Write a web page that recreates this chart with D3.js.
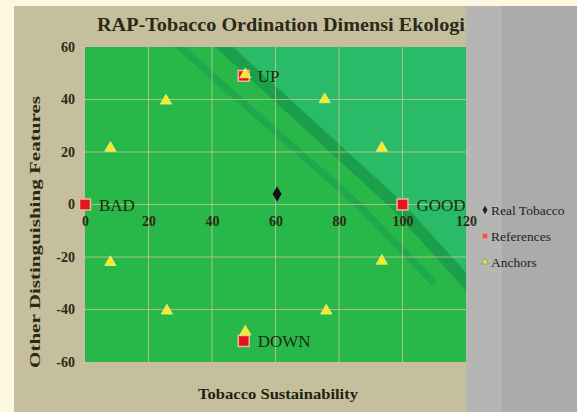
<!DOCTYPE html>
<html>
<head>
<meta charset="utf-8">
<script src="https://cdn.jsdelivr.net/npm/d3@7"></script>
<style>
  body { margin: 0; background: #fbf7e0; }
  svg { display: block; }
  text { font-family: "Liberation Serif", "DejaVu Serif", serif; }
</style>
</head>
<body>
<div id="chart"></div>
<script>
// Data
const xTicks = [0, 20, 40, 60, 80, 100, 120];
const yTicks = [-60, -40, -20, 0, 20, 40, 60];

const realTobacco = [[60.5, 4]];
const references = [[0, 0, "BAD"], [100, 0, "GOOD"], [50, 49, "UP"], [50, -52, "DOWN"]];
const anchors = [
    [8, 21.5], [25.5, 39.5], [75.5, 40], [93.5, 21.5],
    [8, -22], [25.8, -40.5], [76, -40.5], [93.5, -21.5],
    [50.5, 49.5], [50.5, -48.5]
];
const legendItems = ["Real Tobacco", "References", "Anchors"];

const WIDTH = 577, HEIGHT = 412;
const PLOT = { left: 85, right: 466, top: 47, bottom: 362 };

const svg = d3.select("#chart").append("svg")
    .attr("width", WIDTH)
    .attr("height", HEIGHT);

// chart area background
svg.append("rect").attr("x", 14).attr("y", 6).attr("width", WIDTH - 14).attr("height", HEIGHT - 6)
    .attr("fill", "#c6bf9d");
svg.append("rect").attr("x", 466).attr("y", 6).attr("width", 36).attr("height", HEIGHT - 6)
    .attr("fill", "#b5b5b3");
svg.append("rect").attr("x", 502).attr("y", 6).attr("width", WIDTH - 502).attr("height", HEIGHT - 6)
    .attr("fill", "#ababab");

const x = d3.scaleLinear().domain([0, 120]).range([PLOT.left, PLOT.right]);
const y = d3.scaleLinear().domain([-60, 60]).range([PLOT.bottom, PLOT.top]);

// plot area
svg.append("rect")
    .attr("x", PLOT.left).attr("y", PLOT.top)
    .attr("width", PLOT.right - PLOT.left).attr("height", PLOT.bottom - PLOT.top)
    .attr("fill", "#28b84a");

// faint watermark bands over the plot
svg.append("clipPath").attr("id", "plotclip").append("rect")
    .attr("x", PLOT.left).attr("y", PLOT.top)
    .attr("width", PLOT.right - PLOT.left).attr("height", PLOT.bottom - PLOT.top);
const wm = svg.append("g").attr("clip-path", "url(#plotclip)");
const band = d3.line().x(d => x(d[0])).y(d => y(d[1]));
wm.append("path")
    .attr("d", band([[46, 60], [100, 0], [120, -28], [120, 60]]) + "Z")
    .attr("fill", "#2abb68");
wm.append("path")
    .attr("d", band([[42, 62], [98, 0], [122, -32]]))
    .attr("fill", "none").attr("stroke", "#1c9f4a").attr("stroke-width", 12);
wm.append("path")
    .attr("d", band([[28, 62], [86, 0], [110, -30]]))
    .attr("fill", "none").attr("stroke", "#20a84c").attr("stroke-width", 7);

// gridlines
const gridColor = "#d2c98e";
svg.append("g").selectAll("line").data(xTicks.slice(1, -1)).join("line")
    .attr("x1", d => x(d)).attr("x2", d => x(d))
    .attr("y1", PLOT.top).attr("y2", PLOT.bottom)
    .attr("stroke", gridColor).attr("stroke-width", 1).attr("opacity", 0.75);
svg.append("g").selectAll("line").data(yTicks.slice(1, -1)).join("line")
    .attr("x1", PLOT.left).attr("x2", PLOT.right)
    .attr("y1", d => y(d)).attr("y2", d => y(d))
    .attr("stroke", gridColor).attr("stroke-width", 1).attr("opacity", 0.75);

// axes (plain hyphen minus, like the original)
const fmt = d => String(d);
const yAxis = d3.axisLeft(y).tickValues(yTicks).tickFormat(fmt).tickSize(4).tickPadding(6);
const yG = svg.append("g").attr("transform", `translate(${PLOT.left},0)`).call(yAxis);
yG.select(".domain").remove();
yG.selectAll("line").attr("stroke", gridColor);
yG.selectAll("text")
    .attr("font-family", "Liberation Serif, serif")
    .attr("font-size", 14).attr("font-weight", "bold").attr("fill", "#2b2b14");

const xAxis = d3.axisBottom(x).tickValues(xTicks).tickFormat(fmt).tickSize(0).tickPadding(12);
const xG = svg.append("g").attr("transform", `translate(0,${y(0)})`).call(xAxis);
xG.select(".domain").remove();
xG.selectAll("text")
    .attr("font-family", "Liberation Serif, serif")
    .attr("font-size", 14).attr("font-weight", "bold").attr("fill", "#2b2b14");

const tri = d3.symbol().type(d3.symbolTriangle).size(55);
const sq = d3.symbol().type(d3.symbolSquare).size(120);
const dia = d3.symbol().type(d3.symbolDiamond).size(70);

// references (red squares)
svg.append("g").selectAll("path").data(references).join("path")
    .attr("d", sq)
    .attr("transform", d => `translate(${x(d[0])},${y(d[1])})`)
    .attr("fill", "#e3141e").attr("stroke", "#f0b49a").attr("stroke-width", 1.5);

// anchors (yellow triangles)
svg.append("g").selectAll("path").data(anchors).join("path")
    .attr("d", tri)
    .attr("transform", d => `translate(${x(d[0])},${y(d[1])})`)
    .attr("fill", "#f4ee1c").attr("stroke", "#e8e8a0").attr("stroke-width", 0.8);

// real tobacco (black diamond)
svg.append("g").selectAll("path").data(realTobacco).join("path")
    .attr("d", dia)
    .attr("transform", d => `translate(${x(d[0])},${y(d[1])})`)
    .attr("fill", "#111");

// reference labels
svg.append("g").selectAll("text").data(references).join("text")
    .attr("x", d => x(d[0]) + 14)
    .attr("y", d => y(d[1]) + 6)
    .attr("font-size", 17).attr("fill", "#1d2a12")
    .text(d => d[2]);

// title
svg.append("text")
    .attr("x", 281).attr("y", 31)
    .attr("text-anchor", "middle")
    .attr("font-size", 19).attr("font-weight", "bold").attr("fill", "#2a2a18")
    .attr("textLength", 368).attr("lengthAdjust", "spacingAndGlyphs")
    .text("RAP-Tobacco Ordination Dimensi Ekologi");

// axis titles
svg.append("text")
    .attr("x", 278).attr("y", 399)
    .attr("text-anchor", "middle")
    .attr("font-size", 15).attr("font-weight", "bold").attr("fill", "#22220f")
    .attr("textLength", 160).attr("lengthAdjust", "spacingAndGlyphs")
    .text("Tobacco Sustainability");

svg.append("text")
    .attr("transform", "translate(40,232) rotate(-90)")
    .attr("text-anchor", "middle")
    .attr("font-size", 15).attr("font-weight", "bold").attr("fill", "#2a2a10")
    .attr("textLength", 272).attr("lengthAdjust", "spacingAndGlyphs")
    .text("Other Distinguishing Features");

// legend
const legend = svg.append("g").attr("transform", "translate(485,210)");
const legendSym = [
    { sym: d3.symbol().type(d3.symbolDiamond).size(22), fill: "#222", stroke: "none" },
    { sym: d3.symbol().type(d3.symbolSquare).size(30), fill: "#e8505a", stroke: "#f0b0a0" },
    { sym: d3.symbol().type(d3.symbolTriangle).size(20), fill: "#eeea30", stroke: "#777" }
];
legendItems.forEach((name, i) => {
    const g = legend.append("g").attr("transform", `translate(0,${i * 26})`);
    g.append("path").attr("d", legendSym[i].sym)
        .attr("fill", legendSym[i].fill).attr("stroke", legendSym[i].stroke).attr("stroke-width", 0.6);
    g.append("text").attr("x", 6).attr("y", 5)
        .attr("font-size", 13.5).attr("fill", "#1e1e1e")
        .text(name);
});
</script>
</body>
</html>
